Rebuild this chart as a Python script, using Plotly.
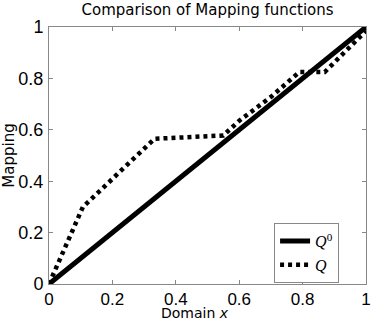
import plotly.graph_objects as go

x_ref = [0, 1]
y_ref = [0, 1]

x_q = [0, 0.107, 0.333, 0.55, 0.6, 0.7, 0.79, 0.87, 1.0]
y_q = [0, 0.300, 0.565, 0.578, 0.635, 0.728, 0.825, 0.825, 0.985]

ticks = [0, 0.2, 0.4, 0.6, 0.8, 1]
tick_text = ["0", "0.2", "0.4", "0.6", "0.8", "1"]

fig = go.Figure()
fig.add_trace(go.Scatter(x=x_ref, y=y_ref, mode="lines", name="<i>Q</i><sup>0</sup>",
                         line=dict(color="black", width=5)))
fig.add_trace(go.Scatter(x=x_q, y=y_q, mode="lines", name="<i>Q</i>",
                         line=dict(color="black", width=4.5, dash="4px,4px")))

axis_common = dict(range=[0, 1], tickvals=ticks, ticktext=tick_text, ticks="inside",
                   ticklen=4, tickcolor="#888", showline=True, linecolor="#888",
                   linewidth=1, mirror="ticks", showgrid=False, zeroline=False,
                   automargin=False)

fig.update_layout(
    width=374, height=320,
    margin=dict(l=49, r=8, t=27, b=36),
    paper_bgcolor="white", plot_bgcolor="white",
    title=dict(text="Comparison of Mapping functions", x=0.555, xanchor="center",
               y=0.968, yanchor="middle",
               font=dict(family="DejaVu Sans", size=15, color="black")),
    xaxis=dict(**axis_common, ticklabelstandoff=0,
               tickfont=dict(family="Liberation Sans, Arial", size=17, color="black")),
    yaxis=dict(**axis_common, ticklabelstandoff=1,
               tickfont=dict(family="Liberation Sans, Arial", size=18, color="black"),
               title=dict(text="Mapping", standoff=4,
                          font=dict(family="DejaVu Sans", size=15, color="black"))),
    legend=dict(x=0.71, y=0.237, xanchor="left", yanchor="top",
                bgcolor="white", bordercolor="#888", borderwidth=1,
                itemwidth=30, tracegroupgap=0,
                font=dict(family="Liberation Serif, DejaVu Serif", size=16, color="black")),
    showlegend=True,
    annotations=[dict(text="Domain <i>x</i>", xref="paper", yref="paper", x=0.46, y=0,
                      xanchor="center", yanchor="middle", yshift=-29, showarrow=False,
                      font=dict(family="DejaVu Sans", size=14, color="black"))],
)

fig.write_html("out.html", config={"displayModeBar": False},
               post_script="document.body.style.margin='0';")
